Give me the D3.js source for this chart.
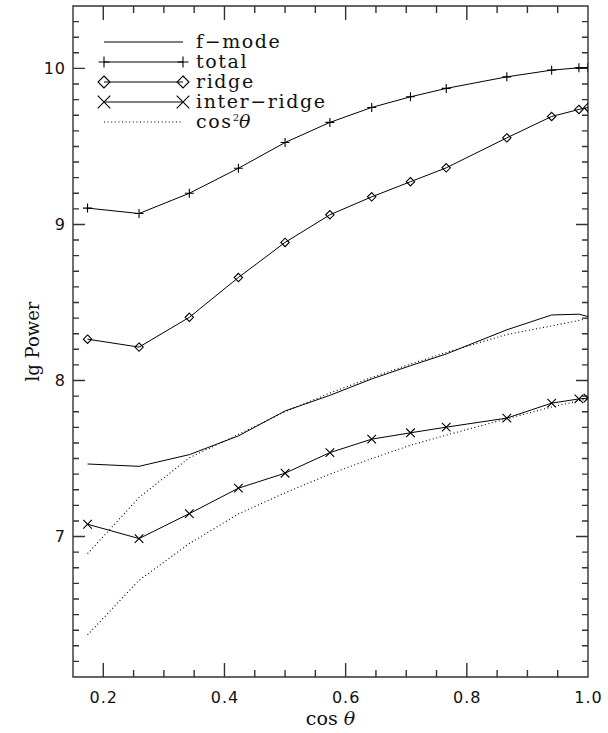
<!DOCTYPE html>
<html>
<head>
<meta charset="utf-8">
<script src="https://cdn.jsdelivr.net/npm/d3@7"></script>
<style>
  html, body { margin: 0; padding: 0; background: #fff; }
  svg { display: block; }
</style>
</head>
<body>
<svg id="chart" width="608" height="733"></svg>
<script>
// ---- data ----
const cosTheta   = [0.174, 0.259, 0.342, 0.423, 0.500, 0.574, 0.643, 0.707, 0.766, 0.866, 0.940, 0.985, 1.000];
const fMode      = [7.465, 7.450, 7.525, 7.645, 7.805, 7.905, 8.010, 8.095, 8.170, 8.325, 8.420, 8.425, 8.410];
const total      = [9.105, 9.070, 9.200, 9.360, 9.525, 9.654, 9.750, 9.818, 9.872, 9.946, 9.989, 10.004, 10.006];
const ridge      = [8.265, 8.214, 8.405, 8.660, 8.885, 9.062, 9.177, 9.274, 9.363, 9.555, 9.692, 9.737, 9.750];
const interRidge = [7.079, 6.987, 7.147, 7.310, 7.406, 7.538, 7.624, 7.665, 7.701, 7.759, 7.855, 7.882, 7.887];
const cos2Upper  = [6.890, 7.250, 7.505, 7.655, 7.800, 7.920, 8.020, 8.105, 8.180, 8.295, 8.350, 8.385, 8.400];
const cos2Lower  = [6.370, 6.720, 6.955, 7.145, 7.280, 7.400, 7.500, 7.585, 7.650, 7.755, 7.830, 7.870, 7.885];

const legendLabels = ["f\u2212mode", "total", "ridge", "inter\u2212ridge", "cos2θ"];
const xTicks = [0.2, 0.4, 0.6, 0.8, 1.0];
const xTickLabels = ["0.2", "0.4", "0.6", "0.8", "1.0"];
const yTicks = [7, 8, 9, 10];
const yTickLabels = ["7", "8", "9", "10"];
const xMinor = [0.25, 0.30, 0.35, 0.45, 0.50, 0.55, 0.65, 0.70, 0.75, 0.85, 0.90, 0.95];
const yMinor = [6.1, 6.2, 6.3, 6.4, 6.5, 6.6, 6.7, 6.8, 6.9, 7.1, 7.2, 7.3, 7.4, 7.5, 7.6, 7.7, 7.8, 7.9,
                8.1, 8.2, 8.3, 8.4, 8.5, 8.6, 8.7, 8.8, 8.9, 9.1, 9.2, 9.3, 9.4, 9.5, 9.6, 9.7, 9.8, 9.9, 10.1, 10.2, 10.3];
const xDomain = [0.15, 1.0];
const yDomain = [6.1, 10.4];
const xTitle = "cos ";
const xTitleGreek = "θ";
const yTitle = "lg Power";

// ---- layout ----
const svg = d3.select("#chart");
const L = 73, R = 588, T = 6, B = 677;
const x = d3.scaleLinear().domain(xDomain).range([L, R]);
const y = d3.scaleLinear().domain(yDomain).range([B, T]);
const axisColor = "#333";
const tickFont = "'DejaVu Sans', sans-serif";
const serif = "'DejaVu Serif', serif";

svg.append("defs").append("clipPath").attr("id", "clip")
  .append("rect").attr("x", L).attr("y", T).attr("width", R - L).attr("height", B - T);

// tick labels via d3 axes
function styleAxis(g) {
  g.select(".domain").remove();
  g.selectAll(".tick line").remove();
  g.selectAll(".tick text").attr("fill", "#111").style("font-family", tickFont)
    .style("font-size", "16px").style("letter-spacing", "1px");
}
svg.append("g").attr("transform", `translate(0,${B})`)
  .call(d3.axisBottom(x).tickValues(xTicks).tickFormat((d, i) => xTickLabels[i]).tickSize(0).tickPadding(15))
  .call(styleAxis);
svg.append("g").attr("transform", `translate(${L},0)`)
  .call(d3.axisLeft(y).tickValues(yTicks).tickFormat((d, i) => yTickLabels[i]).tickSize(0).tickPadding(7))
  .call(styleAxis);

// frame and inward ticks on all four sides, one path
const fr = d3.path();
fr.moveTo(L, T); fr.lineTo(R, T); fr.lineTo(R, B); fr.lineTo(L, B); fr.closePath();
function xTickSeg(v, len) {
  const px = x(v);
  fr.moveTo(px, B); fr.lineTo(px, B - len);
  fr.moveTo(px, T); fr.lineTo(px, T + len);
}
function yTickSeg(v, len) {
  const py = y(v);
  fr.moveTo(L, py); fr.lineTo(L + len, py);
  fr.moveTo(R, py); fr.lineTo(R - len, py);
}
xTicks.forEach(v => xTickSeg(v, 14));
xMinor.forEach(v => xTickSeg(v, 7));
yTicks.forEach(v => yTickSeg(v, 12));
yMinor.forEach(v => yTickSeg(v, 6));
svg.append("path").attr("d", fr.toString())
  .attr("fill", "none").attr("stroke", axisColor).attr("stroke-width", 1.4);

// axis titles
const xtt = svg.append("text").attr("x", (L + R) / 2).attr("y", 725).attr("text-anchor", "middle")
  .style("font-family", serif).style("font-size", "19px").attr("fill", "#111");
xtt.append("tspan").text(xTitle);
xtt.append("tspan").style("font-style", "italic").text(xTitleGreek);

svg.append("text").attr("transform", `translate(39,${(T + B) / 2}) rotate(-90)`).attr("text-anchor", "middle")
  .style("font-family", serif).style("font-size", "18px").attr("fill", "#111").text(yTitle);

// ---- data ----
const plot = svg.append("g").attr("clip-path", "url(#clip)");
const line = d3.line().x((d, i) => x(cosTheta[i])).y(d => y(d));

const symbolPaths = {
  plus: s => `M${-s},0H${s}M0,${-s}V${s}`,
  diamond: s => `M0,${-s}L${s},0L0,${s}L${-s},0Z`,
  cross: s => `M${-s},${-s}L${s},${s}M${-s},${s}L${s},${-s}`
};

const series = [
  { values: fMode, dash: null, sym: null },
  { values: total, dash: null, sym: "plus", size: 4.5 },
  { values: ridge, dash: null, sym: "diamond", size: 4.2 },
  { values: interRidge, dash: null, sym: "cross", size: 4.3 },
  { values: cos2Upper, dash: "1,2.6", sym: null },
  { values: cos2Lower, dash: "1,2.6", sym: null }
];

series.forEach(s => {
  plot.append("path").datum(s.values).attr("d", line)
    .attr("fill", "none").attr("stroke", "#000").attr("stroke-width", s.dash ? 1.1 : 1)
    .attr("stroke-dasharray", s.dash);
  if (s.sym) {
    plot.append("g").selectAll("path").data(s.values).join("path")
      .attr("transform", (d, i) => `translate(${x(cosTheta[i])},${y(d)})`)
      .attr("d", symbolPaths[s.sym](s.size))
      .attr("fill", "none").attr("stroke", "#000").attr("stroke-width", 1.1);
  }
});

// ---- legend ----
const legendItems = [
  { sym: null, dash: null },
  { sym: "plus", dash: null, size: 5.5 },
  { sym: "diamond", dash: null, size: 6 },
  { sym: "cross", dash: null, size: 6.3 },
  { sym: null, dash: "1,2.6" }
];
const lgX0 = 104, lgX1 = 183, lgY0 = 42, lgDy = 20, lgTextX = 196;
const lg = svg.append("g");
legendItems.forEach((it, k) => {
  const yy = lgY0 + k * lgDy;
  lg.append("line").attr("x1", lgX0).attr("x2", lgX1).attr("y1", yy).attr("y2", yy)
    .attr("stroke", "#000").attr("stroke-width", it.dash ? 1.1 : 1).attr("stroke-dasharray", it.dash);
  if (it.sym) {
    [lgX0, lgX1].forEach(px => lg.append("path").attr("transform", `translate(${px},${yy})`)
      .attr("d", symbolPaths[it.sym](it.size)).attr("fill", "none").attr("stroke", "#000").attr("stroke-width", 1.1));
  }
  const t = lg.append("text").attr("x", lgTextX).attr("y", yy + 5.5)
    .style("font-family", serif).style("font-size", "19px").style("letter-spacing", "1.6px").attr("fill", "#111");
  const lab = legendLabels[k];
  if (lab === "cos2θ") {
    t.append("tspan").text("cos");
    t.append("tspan").attr("dy", -7).style("font-size", "10px").style("letter-spacing", "0px").text("2");
    t.append("tspan").attr("dy", 7).style("font-style", "italic").text("θ");
  } else {
    t.text(lab);
  }
});
</script>
</body>
</html>
